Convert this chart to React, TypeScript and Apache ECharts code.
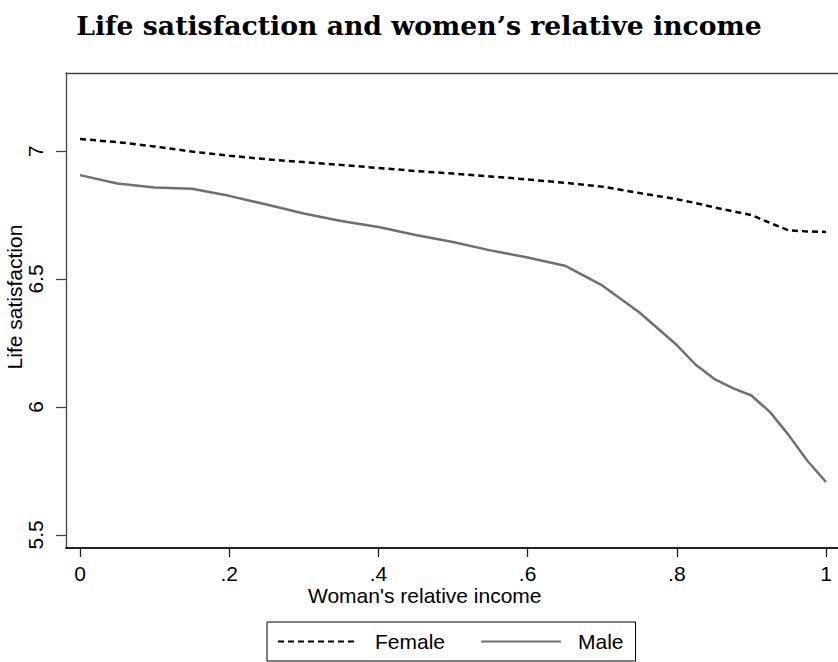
import React, { useEffect, useRef } from "react";
import * as echarts from "echarts";

const TITLE = "Life satisfaction and women\u2019s relative income";
const X_NAME = "Woman's relative income";
const Y_NAME = "Life satisfaction";

const xValues = [0, 0.05, 0.1, 0.15, 0.2, 0.25, 0.3, 0.35, 0.4, 0.45, 0.5, 0.55, 0.6, 0.65, 0.7, 0.75, 0.8, 0.825, 0.85, 0.875, 0.9, 0.925, 0.95, 0.975, 1.0];
const femaleValues = [7.047, 7.035, 7.018, 6.998, 6.982, 6.968, 6.957, 6.946, 6.934, 6.922, 6.912, 6.901, 6.889, 6.876, 6.861, 6.836, 6.812, 6.797, 6.78, 6.765, 6.75, 6.719, 6.69, 6.686, 6.684];
const maleValues = [6.906, 6.873, 6.858, 6.853, 6.825, 6.791, 6.756, 6.727, 6.703, 6.672, 6.645, 6.612, 6.584, 6.552, 6.475, 6.369, 6.242, 6.166, 6.11, 6.074, 6.045, 5.98, 5.89, 5.79, 5.707];

const xTicks = [0, 0.2, 0.4, 0.6, 0.8, 1];
const yTicks = [5.5, 6, 6.5, 7];

const fmtX = (v: number) => {
  if (Math.abs(v) < 1e-9) return "0";
  if (Math.abs(v - 1) < 1e-9) return "1";
  return String(Math.round(v * 10) / 10).replace(/^0/, "");
};

export default function App() {
  const ref = useRef<HTMLDivElement>(null);
  useEffect(() => {
    if (!ref.current) return;
    const chart = echarts.init(ref.current, undefined, { renderer: "svg" });
    const font = "'Liberation Sans', Arial, sans-serif";
    chart.setOption({
      animation: false,
      backgroundColor: "#ffffff",
      title: {
        text: TITLE,
        left: "center",
        top: 7,
        textStyle: {
          fontFamily: "'DejaVu Serif', 'Liberation Serif', serif",
          fontWeight: "bold",
          fontSize: 26.7,
          color: "#000",
        },
      },
      grid: { left: 66, top: 73, right: 0, bottom: 662 - 548, containLabel: false },
      xAxis: [
        {
          type: "value",
          min: -0.01877,
          max: 1.01609,
          axisLine: { show: true, onZero: false, lineStyle: { color: "#222", width: 2 } },
          axisTick: { show: true, customValues: xTicks, length: 9, lineStyle: { color: "#222", width: 1.3 } },
          axisLabel: {
            customValues: xTicks,
            formatter: (v: number) => fmtX(v),
            fontFamily: font,
            fontSize: 21,
            color: "#000",
            margin: 15,
          },
          splitLine: { show: false },
        },
        {
          type: "value",
          position: "top",
          min: -0.01877,
          max: 1.01609,
          axisLine: { show: true, onZero: false, lineStyle: { color: "#444", width: 1.3 } },
          axisTick: { show: false },
          axisLabel: { show: false },
          splitLine: { show: false },
        },
      ],
      yAxis: {
        type: "value",
        min: 5.449,
        max: 7.305,
        axisLine: { show: true, onZero: false, lineStyle: { color: "#444", width: 1.3 } },
        axisTick: { show: true, customValues: yTicks, length: 10, lineStyle: { color: "#444", width: 1.3 } },
        axisLabel: {
          customValues: yTicks,
          rotate: 90,
          fontFamily: font,
          fontSize: 21,
          color: "#000",
          margin: 20,
          formatter: (v: number) => String(v),
        },
        splitLine: { show: false },
      },
      legend: {
        data: ["Female", "Male"],
        left: 267,
        top: 622,
        orient: "horizontal",
        itemWidth: 80,
        itemHeight: 14,
        itemGap: 35,
        padding: [9, 12, 9, 10],
        borderColor: "#000",
        borderWidth: 1,
        itemStyle: { opacity: 0 },
        textStyle: { fontFamily: font, fontSize: 21, color: "#000", padding: [0, 0, 0, 12] },
      },
      graphic: [
        {
          type: "text",
          left: 308,
          top: 585,
          style: { text: X_NAME, fontFamily: font, fontSize: 21, fill: "#000" },
        },
        {
          type: "text",
          x: 14,
          y: 297,
          rotation: Math.PI / 2,
          style: {
            text: Y_NAME,
            fontFamily: font,
            fontSize: 21,
            fill: "#000",
            align: "center",
            verticalAlign: "middle",
          },
        },
      ],
      series: [
        {
          name: "Female",
          type: "line",
          xAxisIndex: 0,
          data: xValues.map((x, i) => [x, femaleValues[i]]),
          symbol: "none",
          smooth: false,
          lineStyle: { color: "#000", width: 2.5, type: [6, 4] },
          itemStyle: { color: "#000" },
        },
        {
          name: "Male",
          type: "line",
          xAxisIndex: 0,
          data: xValues.map((x, i) => [x, maleValues[i]]),
          symbol: "none",
          smooth: false,
          lineStyle: { color: "#707070", width: 2.5, type: "solid" },
          itemStyle: { color: "#707070" },
        },
      ],
    });
    return () => chart.dispose();
  }, []);
  return <div ref={ref} style={{ position: "absolute", left: 0, top: 0, width: 838, height: 662 }} />;
}
